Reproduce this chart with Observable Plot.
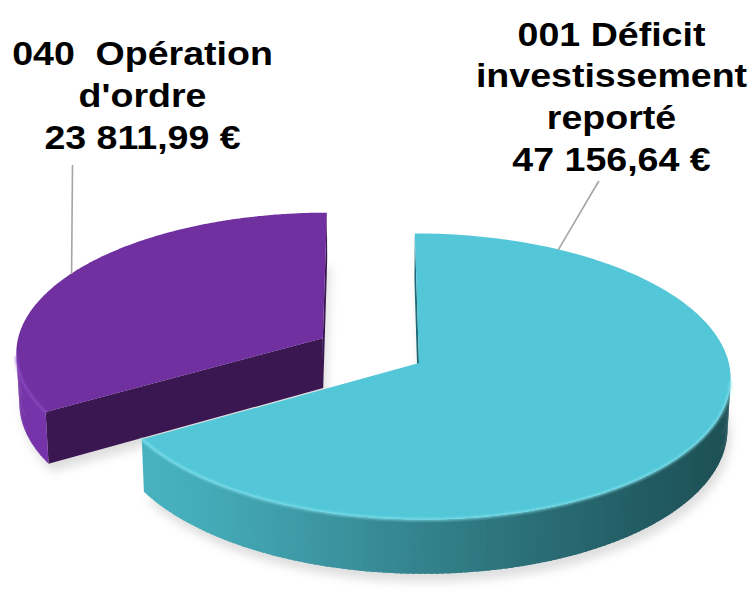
<!DOCTYPE html>
<html><head><meta charset="utf-8">
<script src="https://cdn.jsdelivr.net/npm/d3@7"></script>
<script src="https://cdn.jsdelivr.net/npm/@observablehq/plot@0.6"></script>
<style>body{margin:0;background:#fff} svg{white-space:pre}</style>
</head><body><div id="chart"></div>
<script>
// ---- data ----
const categories = ["001 Déficit\ninvestissement\nreporté", "040  Opération\nd'ordre"];
const values = [47156.64, 23811.99];

// ---- styles ----
const topColors = ["#53C7D7", "#7030A0"];
const wallLight = ["#48B2C0", "#7634AA"];
const wallDark  = ["#1D4F55", "#4A1D6E"];
const cutColors = ["#1F6A74", "#3B1752"];
const rimColors = ["#8BEAF5", "#8E4CC6"];
const textStretch = 1.155;

// ---- layout ----
const W = 753, H = 592;
const cam = {tilt: 27 * Math.PI / 180, D: 9.52, f: 2925, ox: 370, oy: 350, depth: 0.185, explode: 0.18};
const labelAnchor = [[611, 170], [142, 148]];
const leaderAngleDeg = [30, null]; // null -> slice mid-angle
const leaderEnd = [[598, 181], [72, 165]];

const fr = d3.formatLocale({decimal: ",", thousands: "\u00a0", grouping: [3], currency: ["", "\u00a0€"]});
const fmt = fr.format("$,.2f");

const sinP = Math.sin(cam.tilt), cosP = Math.cos(cam.tilt);
function project([X, Y, Z]) {
  const yc = Y * cosP + Z * sinP;
  const zc = -Y * sinP + Z * cosP + cam.D;
  return [cam.ox + cam.f * X / zc, cam.oy - cam.f * yc / zc];
}
const camPos = [0, cam.D * sinP, -cam.D * cosP];
const visible = (n, p) => n[0] * (camPos[0] - p[0]) + n[1] * (camPos[1] - p[1]) + n[2] * (camPos[2] - p[2]) > 0;
const Ldir = [-0.9, 0, -0.44];

const arcs = d3.pie().sort(null).startAngle(0).endAngle(2 * Math.PI)(values);
const slices = arcs.map((a, i) => {
  const mid = (a.startAngle + a.endAngle) / 2;
  return {i, a0: a.startAngle, a1: a.endAngle, mid,
    cx: cam.explode * Math.sin(mid), cz: cam.explode * Math.cos(mid)};
});
const pt = (s, t, Y) => [s.cx + Math.sin(t), Y, s.cz + Math.cos(t)];
const ctr = (s, Y) => [s.cx, Y, s.cz];
const zOf = p => -p[1] * sinP + p[2] * cosP + cam.D;

// draw farther slices first
const order = slices.slice().sort((a, b) => zOf(ctr(b, 0)) - zOf(ctr(a, 0)));

const h = -cam.depth;
const layers = []; // per slice: {polys, rims}
const shadowRows = [];
for (const s of order) {
  const i = s.i;
  const rows = [], rims = [];
  let pid = 0;
  const addPoly = (pts, fill) => { const id = pid++; for (const p of pts) { const [x, y] = project(p); rows.push({id, x, y, fill}); } };
  // shadow footprint (bottom face, slightly offset)
  const M = 240;
  {
    const pts = [ctr(s, h)];
    for (let k = 0; k <= M; k++) pts.push(pt(s, s.a0 + (s.a1 - s.a0) * k / M, h));
    for (const p of pts) { const [x, y] = project(p); shadowRows.push({z: i, x: x + 3, y: y + 8}); }
  }
  // cut faces
  const n0 = [-Math.cos(s.a0), 0, Math.sin(s.a0)];
  if (visible(n0, pt(s, s.a0, 0))) addPoly([ctr(s, 0), pt(s, s.a0, 0), pt(s, s.a0, h), ctr(s, h)], cutColors[i]);
  const n1 = [Math.cos(s.a1), 0, -Math.sin(s.a1)];
  if (visible(n1, pt(s, s.a1, 0))) addPoly([ctr(s, 0), pt(s, s.a1, 0), pt(s, s.a1, h), ctr(s, h)], cutColors[i]);
  // outer wall, one quad per degree, slightly overlapping to avoid seams
  const N = Math.ceil((s.a1 - s.a0) / (Math.PI / 180));
  const step = (s.a1 - s.a0) / N;
  let run = -1, prevVis = false;
  for (let k = 0; k < N; k++) {
    const t0 = s.a0 + step * k, t1 = t0 + step, tm = (t0 + t1) / 2;
    const n = [Math.sin(tm), 0, Math.cos(tm)];
    const vis = visible(n, pt(s, tm, 0));
    if (vis) {
      const d = n[0] * Ldir[0] + n[2] * Ldir[2];
      const t = Math.pow(Math.max(0, Math.min(1, (d + 1) / 2)), 2);
      const c = d3.interpolateRgb(wallDark[i], wallLight[i])(t);
      const te = Math.min(s.a1, t1 + step * 0.6);
      addPoly([pt(s, t0, 0), pt(s, te, 0), pt(s, te, h), pt(s, t0, h)], c);
      if (!prevVis) run++;
      const [x0, y0] = project(pt(s, t0, 0));
      rims.push({z: run, x: x0, y: y0, c: rimColors[i]});
      if (k === N - 1 || true) { const [x1, y1] = project(pt(s, t1, 0)); rims.push({z: run, x: x1, y: y1, c: rimColors[i]}); }
    }
    prevVis = vis;
  }
  // top face
  const topPts = [ctr(s, 0)];
  for (let k = 0; k <= M; k++) topPts.push(pt(s, s.a0 + (s.a1 - s.a0) * k / M, 0));
  addPoly(topPts, topColors[i]);
  layers.push({i, rows, rims});
}

const labels = slices.map(s => {
  const t = leaderAngleDeg[s.i] == null ? s.mid : leaderAngleDeg[s.i] * Math.PI / 180;
  const [lx, ly] = project(pt(s, t, 0));
  return {text: categories[s.i] + "\n" + fmt(values[s.i]),
    x: labelAnchor[s.i][0], y: labelAnchor[s.i][1],
    lx, ly, ex: leaderEnd[s.i][0], ey: leaderEnd[s.i][1]};
});
const leaderRows = labels.flatMap((l, i) => [{z: i, x: l.lx, y: l.ly}, {z: i, x: l.ex, y: l.ey}]);

const marks = [
  Plot.line(shadowRows, {x: "x", y: "y", z: "z", fill: "#000", fillOpacity: 0.13, stroke: null, curve: "linear-closed", imageFilter: "blur(5px)"})
];
for (const L of layers) {
  marks.push(Plot.line(L.rows, {x: "x", y: "y", z: "id", fill: "fill", curve: "linear-closed"}));
  marks.push(Plot.line(L.rims, {x: "x", y: "y", z: "z", stroke: "c", strokeWidth: 3, strokeOpacity: 0.6, imageFilter: "blur(1px)"}));
}
marks.push(
  Plot.line(leaderRows, {x: "x", y: "y", z: "z", stroke: "#A5A5A5", strokeWidth: 1.6}),
  Plot.text(labels, {x: "x", y: "y", text: "text", fontSize: 32.5, fontWeight: "bold", lineHeight: 1.28, lineAnchor: "bottom", textAnchor: "middle", fill: "#000"})
);

const plot = Plot.plot({
  width: W, height: H, margin: 0,
  x: {domain: [0, W], range: [0, W], axis: null},
  y: {domain: [0, H], range: [0, H], axis: null},
  color: {type: "identity"},
  style: {background: "#fff", fontFamily: "'Liberation Sans', Arial, sans-serif"},
  marks
});
document.getElementById("chart").appendChild(plot);
// horizontal stretch of label glyphs to match the reference's wide bold type
d3.select(plot).selectAll("text tspan, text").each(function () {
  if (this.tagName === "text" && this.querySelector("tspan")) return;
  const len = this.getComputedTextLength();
  if (len > 0) { this.setAttribute("textLength", len * textStretch); this.setAttribute("lengthAdjust", "spacingAndGlyphs"); }
});
</script>
</body></html>
